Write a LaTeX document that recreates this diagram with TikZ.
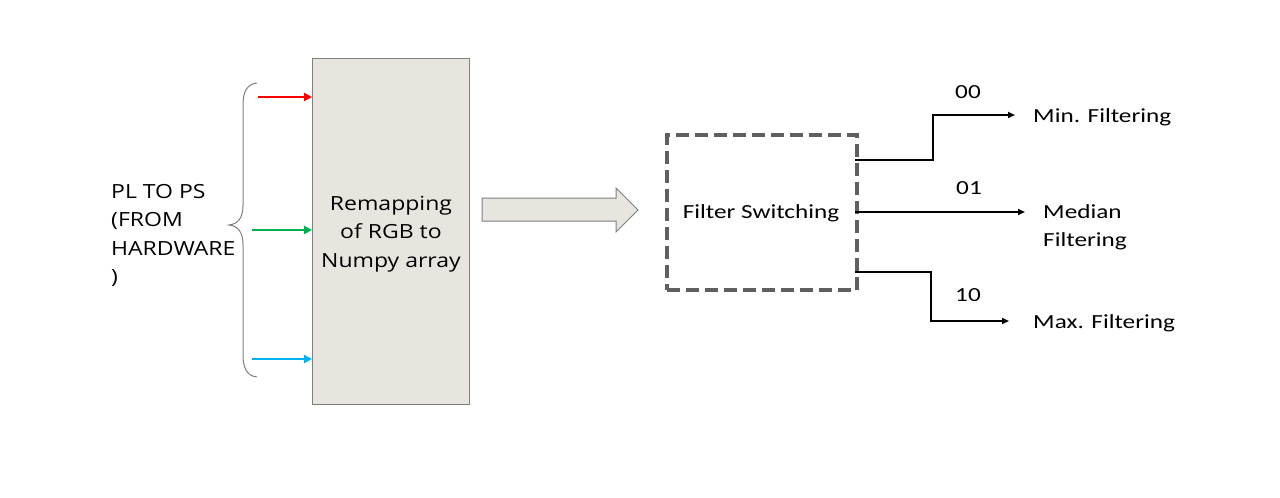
\documentclass[tikz,border=0pt]{standalone}
\usepackage{fontspec}
\setmainfont{Open Sans}[FakeStretch=1.18]
\newfontfamily\rightfont{Carlito}[FakeStretch=1.26]
\usetikzlibrary{arrows.meta}
\definecolor{boxfill}{HTML}{E8E5DF}
\definecolor{boxline}{HTML}{7F7F7F}
\definecolor{dashgray}{HTML}{5F5F5F}
\definecolor{cred}{HTML}{FF0000}
\definecolor{cgreen}{HTML}{00B050}
\definecolor{cblue}{HTML}{00B0F0}
\tikzset{
  lefttext/.style={font=\fontsize{19.5}{28.5}\selectfont, align=left, inner sep=0pt},
  righttext/.style={font=\rightfont\fontsize{20}{28.5}\selectfont, align=left, inner sep=0pt},
  colarrow/.style={line width=2.6pt, -{Triangle[length=8pt,width=8pt]}},
  conn/.style={line width=2.2pt, -{Triangle[length=7pt,width=6pt]}},
}
\begin{document}
\begin{tikzpicture}[x=1pt,y=-1pt]
\useasboundingbox (0,0) rectangle (1280,498);
% big box
\node[draw=boxline, line width=1pt, fill=boxfill, minimum width=157pt, minimum height=346pt, inner sep=0pt, anchor=north west] (box) at (312,58) {};
\node[lefttext, align=center] (boxtext) at (391,234) {Remapping\\of RGB to\\Numpy array};
% left label
\node[lefttext, anchor=north west] (pl) at (111,184) {PL TO PS\\(FROM\\HARDWARE\\)};
% brace
\draw[boxline, line width=1pt] (257,83) .. controls (247,84) and (243,92) .. (243,105)
  -- (243,205) .. controls (243,218) and (238,224) .. (229,225)
  .. controls (238,226) and (243,232) .. (243,245)
  -- (243,355) .. controls (243,368) and (247,376) .. (257,377);
% colored arrows
\coordinate (r0) at (258,97);
\coordinate (g0) at (252,230);
\coordinate (b0) at (252,359);
\draw[colarrow, cred] (r0) -- (r0 -| box.west);
\draw[colarrow, cgreen] (g0) -- (g0 -| box.west);
\draw[colarrow, cblue] (b0) -- (b0 -| box.west);
% block arrow
\draw[boxline, fill=boxfill, line width=1pt] (482,198) -- (616,198) -- (616,188) -- (638,210) -- (616,232) -- (616,221) -- (482,221) -- cycle;
% dashed box
\node[draw=dashgray, line width=4pt, dash pattern=on 13pt off 6pt, minimum width=190pt, minimum height=155pt, inner sep=0pt, anchor=north west] (fs) at (665,133) {};
\node[righttext] (fstext) at (761,213) {Filter Switching};
% outputs
\node[righttext, anchor=west] (minf) at (1033,117) {Min. Filtering};
\node[righttext, anchor=north west] (medf) at (1043,204) {Median\\Filtering};
\node[righttext, anchor=west] (maxf) at (1033,323) {Max. Filtering};
\coordinate (o1) at (855,160);
\coordinate (o2) at (855,212);
\coordinate (o3) at (855,272);
\coordinate (e1) at (1015,115);
\coordinate (e2) at (1025,212);
\coordinate (e3) at (1009,321);
\draw[conn] (o1) -- (933,160) -- (933,115) -- (e1);
\draw[conn] (o2) -- (e2);
\draw[conn] (o3) -- (931,272) -- (931,321) -- (e3);
\node[righttext] (l00) at (968,92) {00};
\node[righttext] (l01) at (969,188) {01};
\node[righttext] (l10) at (968,295) {10};
\end{tikzpicture}
\end{document}
